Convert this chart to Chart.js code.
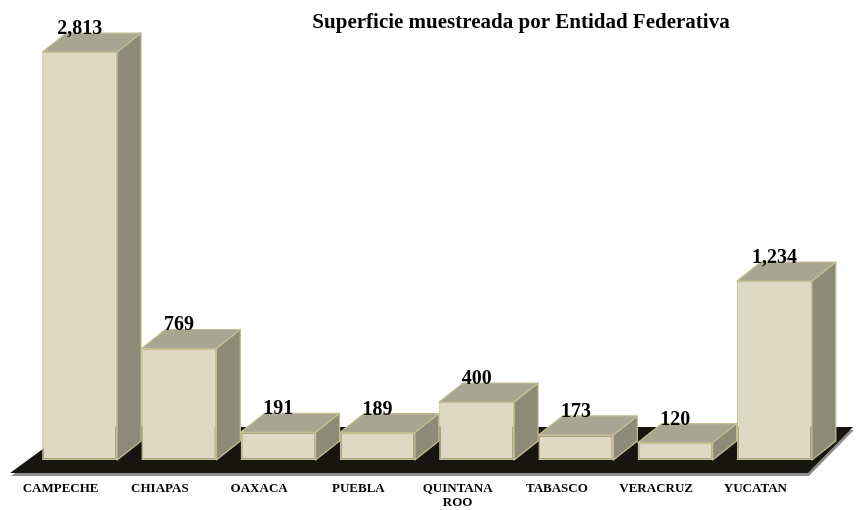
<!DOCTYPE html>
<html>
<head>
<meta charset="utf-8">
<script src="https://cdn.jsdelivr.net/npm/chart.js@4"></script>
<style>
html,body{margin:0;padding:0;background:#fff;}
#wrap{width:856px;height:510px;position:relative;}
</style>
</head>
<body>
<div id="wrap"><canvas id="c" width="856" height="510"></canvas></div>
<script>
const chartTitle = 'Superficie muestreada por Entidad Federativa';
const categories = ['CAMPECHE', 'CHIAPAS', 'OAXACA', 'PUEBLA', ['QUINTANA', 'ROO'], 'TABASCO', 'VERACRUZ', 'YUCATAN'];
const values = [2813, 769, 191, 189, 400, 173, 120, 1234];

const SERIF = '"Liberation Serif", "Times New Roman", Times, serif';
const DX = 24, DY = -19;
const COL_FRONT = '#DDD9C3';
const COL_EDGE = '#C6BF92';
const COL_TOP = '#A7A693';
const COL_SIDE = '#8C8B78';

function poly(ctx, pts) {
  ctx.beginPath();
  ctx.moveTo(pts[0][0], pts[0][1]);
  for (let i = 1; i < pts.length; i++) ctx.lineTo(pts[i][0], pts[i][1]);
  ctx.closePath();
}

const bars3d = {
  id: 'bars3d',
  beforeDatasetsDraw(chart) {
    const ctx = chart.ctx;
    const ca = chart.chartArea;
    const base = chart.scales.y.getPixelForValue(0);
    // floor
    const fy = base + 13, by = base - 33;
    const fl = ca.left - 20, fr = ca.right - 16, bl = ca.left + 43, br = ca.right + 29;
    ctx.save();
    ctx.fillStyle = '#8E8E8E';
    poly(ctx, [[fl + 1, fy + 3], [fr + 1, fy + 3], [br + 1, by + 3], [bl + 1, by + 3]]);
    ctx.fill();
    ctx.fillStyle = '#17150F';
    poly(ctx, [[fl, fy], [fr, fy], [br, by], [bl, by]]);
    ctx.fill();
    // sides and tops
    const meta = chart.getDatasetMeta(0);
    ctx.lineWidth = 1.2;
    ctx.strokeStyle = COL_EDGE;
    ctx.lineJoin = 'round';
    meta.data.forEach(el => {
      const p = el.getProps(['x', 'y', 'base', 'width'], true);
      const l = p.x - p.width / 2, r = p.x + p.width / 2, t = p.y, b = p.base;
      ctx.fillStyle = COL_SIDE;
      poly(ctx, [[r, t], [r + DX, t + DY], [r + DX, b + DY], [r, b]]);
      ctx.fill(); ctx.stroke();
      ctx.fillStyle = COL_TOP;
      poly(ctx, [[l, t], [l + DX, t + DY], [r + DX, t + DY], [r, t]]);
      ctx.fill(); ctx.stroke();
    });
    ctx.restore();
  },
  afterDatasetsDraw(chart) {
    const ctx = chart.ctx;
    const meta = chart.getDatasetMeta(0);
    ctx.save();
    ctx.fillStyle = '#000';
    ctx.font = 'bold 20px ' + SERIF;
    ctx.textAlign = 'center';
    ctx.textBaseline = 'alphabetic';
    meta.data.forEach((el, i) => {
      const p = el.getProps(['x', 'y'], true);
      ctx.fillText(values[i].toLocaleString('en-US'), p.x, p.y - 18);
    });
    ctx.font = 'bold 21px ' + SERIF;
    ctx.fillText(chartTitle, 521, 28);
    ctx.restore();
  }
};

new Chart(document.getElementById('c'), {
  type: 'bar',
  data: {
    labels: categories,
    datasets: [{
      data: values,
      backgroundColor: COL_FRONT,
      borderColor: COL_EDGE,
      borderWidth: 1.5,
      borderSkipped: false,
      categoryPercentage: 1,
      barPercentage: 0.755
    }]
  },
  options: {
    responsive: false,
    animation: false,
    events: [],
    layout: { padding: { top: 25, left: 30, right: 32, bottom: 0 } },
    plugins: { legend: { display: false }, tooltip: { enabled: false }, title: { display: false } },
    scales: {
      x: {
        offset: true,
        grid: { display: false, drawTicks: false },
        border: { display: false },
        ticks: {
          autoSkip: false, maxRotation: 0, minRotation: 0, padding: 22,
          labelOffset: -19,
          color: '#000',
          font: { family: SERIF, size: 13, weight: 'bold', lineHeight: 1.08 }
        },
        afterFit(scale) { scale.height = 50; }
      },
      y: {
        display: false,
        min: 0, max: 3000
      }
    }
  },
  plugins: [bars3d]
});
</script>
</body>
</html>
